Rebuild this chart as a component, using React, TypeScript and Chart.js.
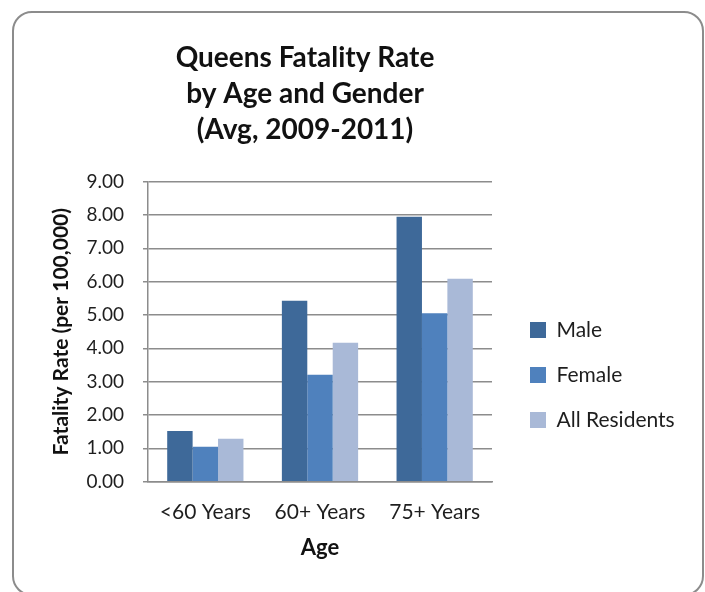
import React, { useEffect, useRef } from 'react';
import { Chart, registerables } from 'chart.js';

Chart.register(...registerables);

// ---- data ----
const categories = ['<60 Years', '60+ Years', '75+ Years'];
const seriesNames = ['Male', 'Female', 'All Residents'];
const maleRates = [1.52, 5.43, 7.95];
const femaleRates = [1.05, 3.21, 5.05];
const allResidentRates = [1.29, 4.17, 6.09];
const titleLines = ['Queens Fatality Rate', 'by Age and Gender', '(Avg, 2009-2011)'];
const yAxisTitle = 'Fatality Rate (per 100,000)';
const xAxisTitle = 'Age';
const yMin = 0;
const yMax = 9;
const yStep = 1;

// ---- styles ----
const FONT = 'Lato, "Open Sans", "DejaVu Sans", sans-serif';
const seriesColors = ['#3E6999', '#4F81BD', '#A9B9D7'];
const gridColor = '#8c8c8c';
const textColor = '#1e1e1e';

const legendShift = {
  id: 'legendShift',
  afterLayout(chart: any) {
    const lg = chart.legend;
    if (!lg) return;
    const dx = 14;
    const dy = 285.5;
    lg.left += dx;
    lg.right = lg.left + 200;
    lg.top += dy;
    lg.bottom += dy;
  },
};

export default function App() {
  const ref = useRef<HTMLCanvasElement>(null);

  useEffect(() => {
    const values = [maleRates, femaleRates, allResidentRates];
    const chart = new Chart(ref.current as HTMLCanvasElement, {
      type: 'bar',
      data: {
        labels: categories,
        datasets: seriesNames.map((name, i) => ({
          label: name,
          data: values[i],
          backgroundColor: seriesColors[i],
          borderWidth: 0,
          barPercentage: 1.0,
          categoryPercentage: 0.665,
        })),
      },
      options: {
        responsive: false,
        animation: false,
        devicePixelRatio: 1,
        layout: { padding: { top: 10, left: 50, right: 145, bottom: 20 } },
        plugins: {
          title: {
            display: true,
            text: titleLines,
            color: '#111',
            fullSize: true,
            align: 'center',
            font: { family: FONT, size: 28, weight: 'bold', lineHeight: 36 / 28 },
            padding: { top: 30, bottom: 33.7 },
          },
          legend: {
            display: true,
            position: 'right',
            align: 'start',
            maxWidth: 68,
            labels: {
              boxWidth: 16,
              boxHeight: 16,
              padding: 24,
              color: textColor,
              font: { family: FONT, size: 21 },
            },
          },
          tooltip: { enabled: false },
        },
        scales: {
          x: {
            afterFit: (s: any) => {
              s.height = 90.3;
            },
            grid: { display: false, drawTicks: false },
            border: { display: true, color: gridColor, width: 1.5 },
            ticks: {
              color: textColor,
              padding: 18,
              font: { family: FONT, size: 21 },
              maxRotation: 0,
            },
            title: {
              display: true,
              text: xAxisTitle,
              color: '#111',
              font: { family: FONT, size: 22, weight: 'bold' },
              padding: { top: 0, bottom: 11 },
            },
          },
          y: {
            min: yMin,
            max: yMax,
            afterFit: (s: any) => {
              s.width = 98;
            },
            grid: { color: gridColor, lineWidth: 1.5, drawTicks: true, tickLength: 5 },
            border: { display: true, color: gridColor, width: 1.5 },
            ticks: {
              stepSize: yStep,
              color: textColor,
              padding: 19,
              font: { family: FONT, size: 19 },
              callback: (v: any) => Number(v).toFixed(2),
            },
            title: {
              display: true,
              text: yAxisTitle,
              color: '#111',
              font: { family: FONT, size: 21, weight: 'bold' },
              padding: { top: -1, bottom: 0 },
            },
          },
        },
      },
      plugins: [legendShift],
    });
    return () => chart.destroy();
  }, []);

  return (
    <div
      style={{
        position: 'fixed',
        left: 0,
        top: 0,
        width: 705,
        height: 592,
        overflow: 'hidden',
        background: '#ffffff',
      }}
    >
      <div
        style={{
          position: 'absolute',
          left: 12,
          top: 11,
          width: 692,
          height: 585,
          boxSizing: 'border-box',
          border: '2px solid #8c8c8c',
          borderRadius: 20,
        }}
      />
      <canvas
        ref={ref}
        width={705}
        height={592}
        style={{ position: 'absolute', left: 0, top: 0, width: 705, height: 592 }}
      />
    </div>
  );
}
